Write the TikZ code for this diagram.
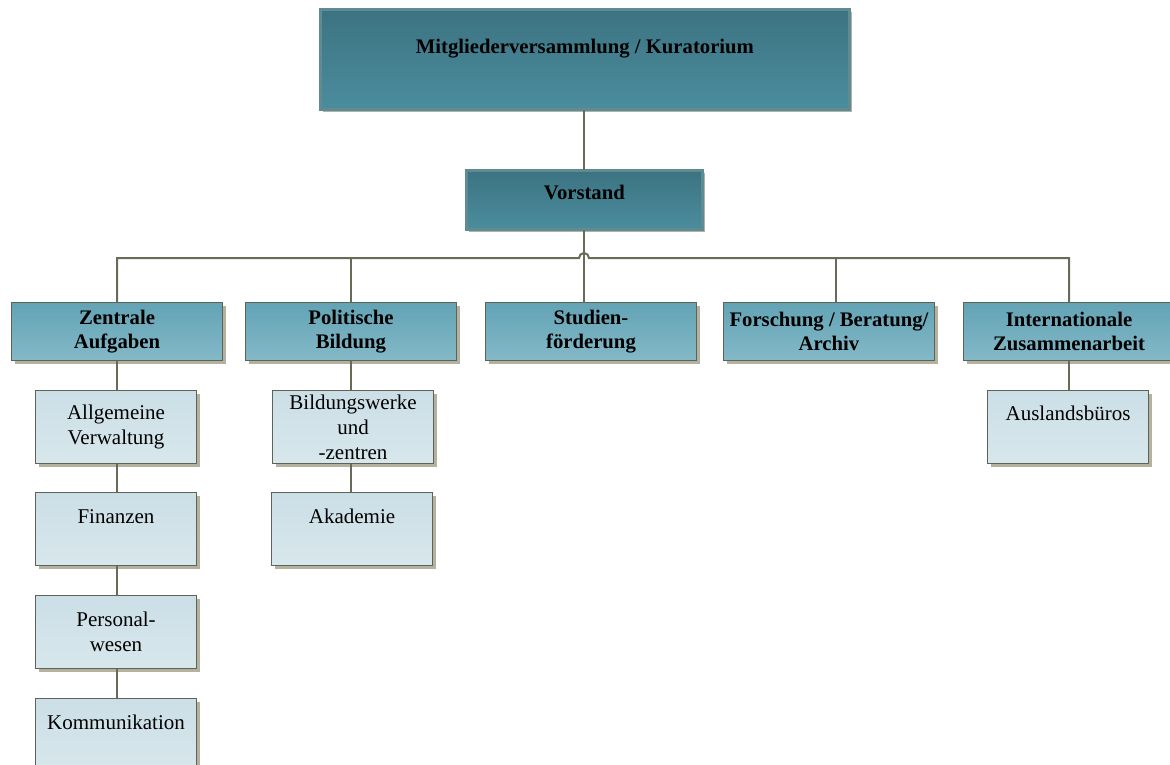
\documentclass[tikz,border=0pt]{standalone}
\usepackage{fontspec}
\setmainfont{Liberation Serif}
\usetikzlibrary{calc}
\definecolor{topA}{HTML}{3C7382}
\definecolor{botA}{HTML}{4B8D9D}
\definecolor{topB}{HTML}{62A3B5}
\definecolor{botB}{HTML}{84B9C7}
\definecolor{topC}{HTML}{CCDFE6}
\definecolor{botC}{HTML}{D7E7EC}
\definecolor{edgec}{HTML}{5D6457}
\definecolor{innerA}{HTML}{5E8C92}
\definecolor{shadowc}{HTML}{B4B29E}
\definecolor{linkc}{HTML}{6A6A58}
\begin{document}
\begin{tikzpicture}[x=1pt,y=-1pt,
  box/.style={rectangle, draw=edgec, line width=1pt, inner sep=0pt,
    anchor=north west, align=center,
    preaction={fill=shadowc, transform canvas={xshift=3pt, yshift=-3pt}}},
  lvA/.style={box, top color=topA, bottom color=botA,
    draw=edgec, double=innerA, double distance=2.2pt, line width=0.8pt,
    font=\bfseries\fontsize{20.7}{24}\selectfont},
  lvB/.style={box, top color=topB, bottom color=botB,
    minimum width=211, minimum height=58,
    font=\bfseries\fontsize{20.7}{24}\selectfont},
  lvC/.style={box, top color=topC, bottom color=botC,
    minimum width=161, minimum height=73,
    font=\fontsize{21}{25}\selectfont},
  link/.style={draw=linkc, line width=2pt}]
\useasboundingbox (0,0) rectangle (1170,764);

% board and executive
\node[lvA, minimum width=529, minimum height=100] (mv) at (320,9)
  {Mitgliederversammlung / Kuratorium\\[3pt]\mbox{}};
\node[lvA, minimum width=236, minimum height=59] (vs) at (466,170)
  {Vorstand\\[-9pt]\mbox{}};

% departments
\node[lvB] (zen) at (11,302)  {Zentrale\\Aufgaben};
\node[lvB] (pol) at (245,302) {Politische\\Bildung};
\node[lvB] (stu) at (485,302) {Studien-\\förderung};
\node[lvB] (fbr) at (723,302) {Forschung / Beratung/\\Archiv};
\node[lvB] (int) at (963,302) {Internationale\\Zusammenarbeit};

% units
\node[lvC] (allg) at (35,390)  {Allgemeine\\Verwaltung};
\node[lvC] (fin)  at (35,492)  {Finanzen\\\mbox{}};
\node[lvC] (pers) at (35,595)  {Personal-\\wesen};
\node[lvC] (kom)  at (35,698)  {Kommunikation\\\mbox{}};
\node[lvC] (bild) at (272,390) {Bildungswerke\\und\\-zentren};
\node[lvC] (akad) at (271,492) {Akademie\\\mbox{}};
\node[lvC] (ausl) at (987,390) {Auslandsbüros\\[3pt]\mbox{}};

% connectors (all vertical runs kept upright)
\coordinate (bus) at (584,258);
\draw[link] (vs.north |- mv.south) -- (vs.north);
\draw[link] (vs.south) -- (vs.south |- stu.north);
\draw[link] (zen.north) -- (zen.north |- bus) -- ($(bus)+(-5,0)$)
  arc[start angle=180, end angle=360, radius=5]
  -- (int.north |- bus) -- (int.north);
\draw[link] (pol.north) -- (pol.north |- bus);
\draw[link] ([xshift=6.5pt]fbr.north) -- ([xshift=6.5pt]fbr.north |- bus);
\draw[link] (zen.south) -- (zen.south |- allg.north);
\draw[link] (zen.south |- allg.south) -- (zen.south |- fin.north);
\draw[link] (zen.south |- fin.south) -- (zen.south |- pers.north);
\draw[link] (zen.south |- pers.south) -- (zen.south |- kom.north);
\draw[link] (pol.south) -- (pol.south |- bild.north);
\draw[link] (pol.south |- bild.south) -- (pol.south |- akad.north);
\draw[link] (int.south) -- (int.south |- ausl.north);
\end{tikzpicture}
\end{document}
